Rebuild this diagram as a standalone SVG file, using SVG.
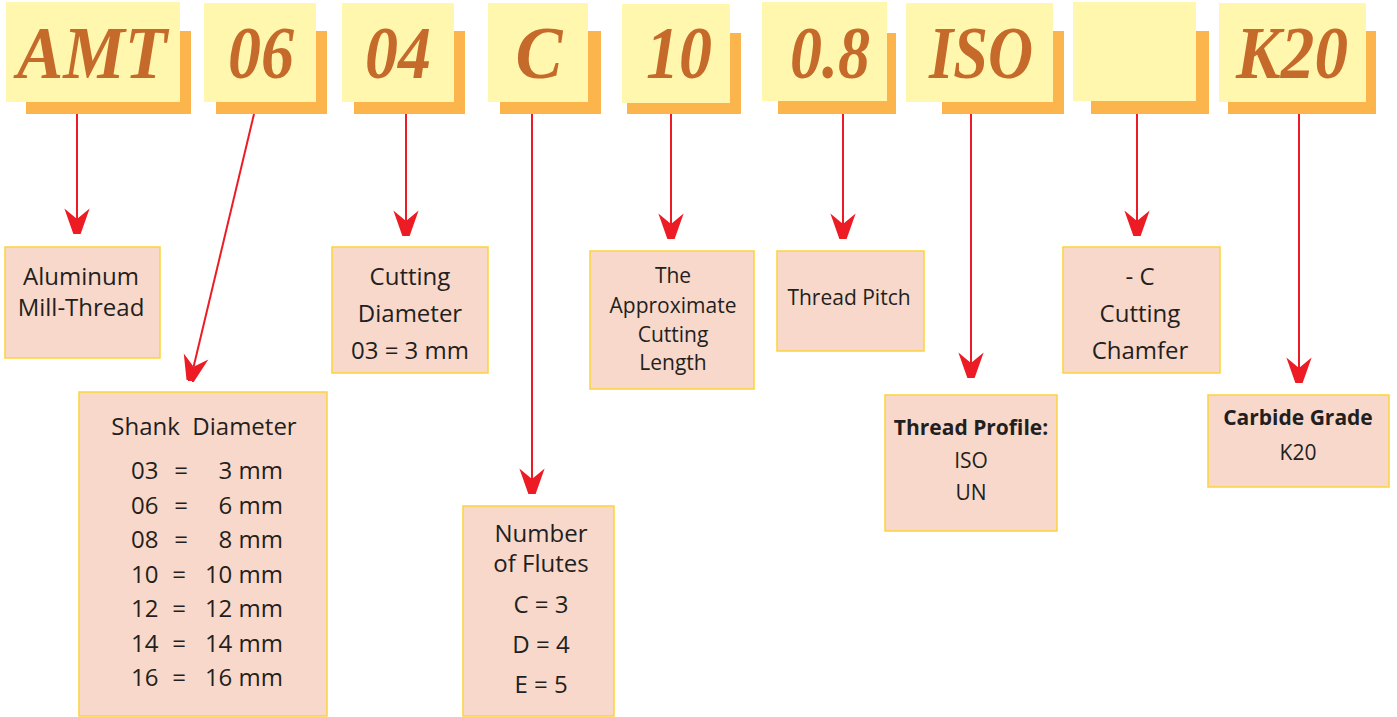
<svg xmlns="http://www.w3.org/2000/svg" width="1397" height="717" viewBox="0 0 1397 717">
<defs>
<marker id="ah" markerUnits="userSpaceOnUse" markerWidth="40" markerHeight="28" viewBox="-24 -13 38 26" refX="0" refY="0" orient="auto">
<path d="M24,0 L-10,-12 L0,0 L-10,12 Z" fill="#ed1c24"/>
</marker>
<style>
.sh{fill:#fbb54c}
.fr{fill:#fff7ad}
.code{font-family:"Liberation Serif",serif;font-weight:bold;font-style:italic;font-size:73px;fill:#c56a2b;text-anchor:middle}
.box{fill:#f8d8cb;stroke:#fdd33a;stroke-width:1.5}
.t{font-family:"Open Sans","Noto Sans",sans-serif;font-size:24px;fill:#231f20;text-anchor:middle}
.s{font-size:21px}
.b{font-weight:bold;font-size:21px}
.st{text-anchor:start}
.en{text-anchor:end}
.ar{stroke:#ed1c24;stroke-width:2;fill:none;marker-end:url(#ah)}
</style>
</defs>

<g id="code-AMT"><rect class="sh" x="26" y="31" width="165" height="83"/><rect class="fr" x="6" y="2" width="174" height="100"/><text class="code" x="92" y="78" textLength="150" lengthAdjust="spacingAndGlyphs">AMT</text></g>
<g id="code-06"><rect class="sh" x="216" y="31" width="111" height="83"/><rect class="fr" x="204" y="3" width="112" height="99"/><text class="code" x="261" y="78" textLength="66" lengthAdjust="spacingAndGlyphs">06</text></g>
<g id="code-04"><rect class="sh" x="354" y="31" width="111" height="83"/><rect class="fr" x="342" y="3" width="112" height="99"/><text class="code" x="398" y="78" textLength="66" lengthAdjust="spacingAndGlyphs">04</text></g>
<g id="code-C"><rect class="sh" x="500" y="31" width="101" height="83"/><rect class="fr" x="488" y="3" width="100" height="99"/><text class="code" x="539" y="78" textLength="47" lengthAdjust="spacingAndGlyphs">C</text></g>
<g id="code-10"><rect class="sh" x="627" y="33" width="114" height="81"/><rect class="fr" x="622" y="4" width="108" height="99"/><text class="code" x="679" y="78" textLength="66" lengthAdjust="spacingAndGlyphs">10</text></g>
<g id="code-08"><rect class="sh" x="778" y="33" width="118" height="81"/><rect class="fr" x="762" y="2" width="125" height="99"/><text class="code" x="830" y="78" textLength="80" lengthAdjust="spacingAndGlyphs">0.8</text></g>
<g id="code-ISO"><rect class="sh" x="942" y="31" width="122" height="83"/><rect class="fr" x="906" y="3" width="147" height="99"/><text class="code" x="981" y="78" textLength="104" lengthAdjust="spacingAndGlyphs">ISO</text></g>
<g id="code-blank"><rect class="sh" x="1091" y="31" width="118" height="83"/><rect class="fr" x="1073" y="2" width="123" height="99"/></g>
<g id="code-K20"><rect class="sh" x="1228" y="31" width="148" height="83"/><rect class="fr" x="1219" y="3" width="147" height="99"/><text class="code" x="1292" y="78" textLength="112" lengthAdjust="spacingAndGlyphs">K20</text></g>

<g id="connectors">
<line class="ar" x1="77" y1="114" x2="77" y2="219"/>
<line class="ar" x1="254" y1="114" x2="193.6" y2="366.7"/>
<line class="ar" x1="406" y1="114" x2="406" y2="221"/>
<line class="ar" x1="532" y1="114" x2="532" y2="479"/>
<line class="ar" x1="671" y1="114" x2="671" y2="224"/>
<line class="ar" x1="843" y1="114" x2="843" y2="224"/>
<line class="ar" x1="971" y1="114" x2="971" y2="363"/>
<line class="ar" x1="1137" y1="114" x2="1137" y2="221"/>
<line class="ar" x1="1299" y1="114" x2="1299" y2="368"/>
</g>

<g id="aluminum"><rect class="box" x="5" y="247" width="155" height="111"/>
<text class="t" x="81" y="285">Aluminum</text><text class="t" x="81" y="316">Mill-Thread</text></g>

<g id="shank"><rect class="box" x="79" y="392" width="248" height="324"/>
<text class="t" x="204" y="435" style="white-space:pre">Shank  Diameter</text>
<text class="t st" x="131" y="479">03</text><text class="t" x="181" y="479">=</text><text class="t en" x="283" y="479">3 mm</text>
<text class="t st" x="131" y="514">06</text><text class="t" x="181" y="514">=</text><text class="t en" x="283" y="514">6 mm</text>
<text class="t st" x="131" y="548">08</text><text class="t" x="181" y="548">=</text><text class="t en" x="283" y="548">8 mm</text>
<text class="t st" x="131" y="583">10</text><text class="t" x="179" y="583">=</text><text class="t en" x="283" y="583">10 mm</text>
<text class="t st" x="131" y="617">12</text><text class="t" x="179" y="617">=</text><text class="t en" x="283" y="617">12 mm</text>
<text class="t st" x="131" y="652">14</text><text class="t" x="179" y="652">=</text><text class="t en" x="283" y="652">14 mm</text>
<text class="t st" x="131" y="686">16</text><text class="t" x="179" y="686">=</text><text class="t en" x="283" y="686">16 mm</text>
</g>

<g id="cutting-diameter"><rect class="box" x="332" y="247" width="156" height="126"/>
<text class="t" x="410" y="285">Cutting</text><text class="t" x="410" y="322">Diameter</text><text class="t" x="410" y="359">03 = 3 mm</text></g>

<g id="cutting-length"><rect class="box" x="590" y="251" width="164" height="138"/>
<text class="t s" x="673" y="283">The</text><text class="t s" x="673" y="313">Approximate</text><text class="t s" x="673" y="342">Cutting</text><text class="t s" x="673" y="370">Length</text></g>

<g id="flutes"><rect class="box" x="463" y="506" width="151" height="210"/>
<text class="t" x="541" y="542">Number</text><text class="t" x="541" y="572">of Flutes</text><text class="t" x="541" y="613">C = 3</text><text class="t" x="541" y="653">D = 4</text><text class="t" x="541" y="693">E = 5</text></g>

<g id="thread-pitch"><rect class="box" x="777" y="251" width="147" height="100"/>
<text class="t s" x="849" y="305">Thread Pitch</text></g>

<g id="thread-profile"><rect class="box" x="885" y="395" width="172" height="136"/>
<text class="t b" x="971" y="435">Thread Profile:</text><text class="t s" x="971" y="468">ISO</text><text class="t s" x="971" y="500">UN</text></g>

<g id="chamfer"><rect class="box" x="1063" y="247" width="157" height="126"/>
<text class="t" x="1140" y="285">- C</text><text class="t" x="1140" y="322">Cutting</text><text class="t" x="1140" y="359">Chamfer</text></g>

<g id="carbide"><rect class="box" x="1208" y="395" width="181" height="92"/>
<text class="t b" x="1298" y="425">Carbide Grade</text><text class="t s" x="1298" y="460">K20</text></g>
</svg>
